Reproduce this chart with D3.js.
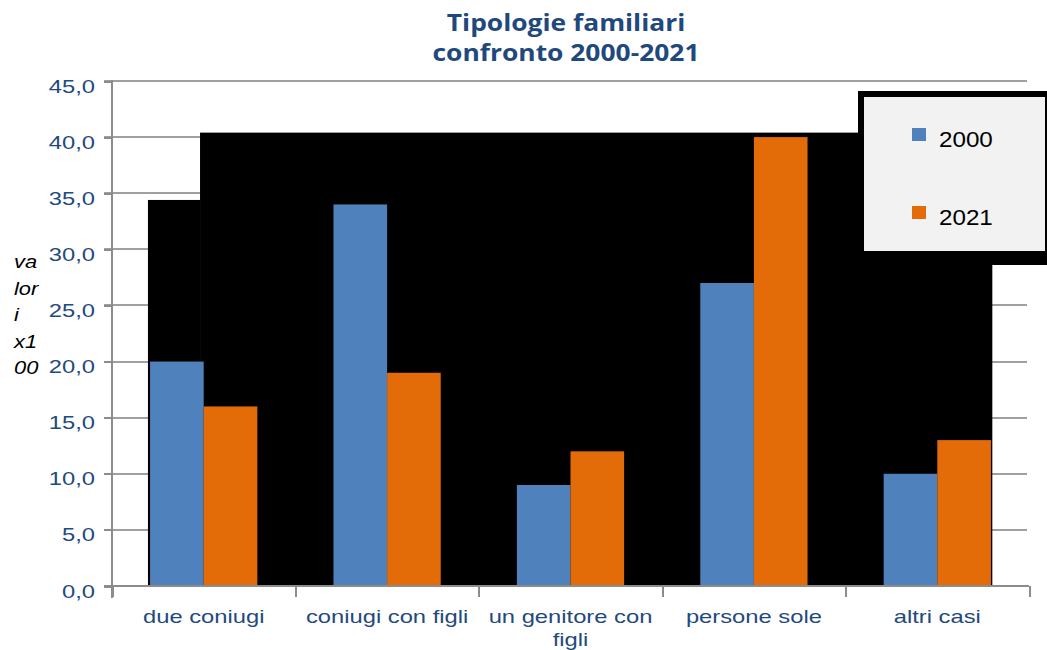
<!DOCTYPE html>
<html lang="it">
<head>
<meta charset="UTF-8">
<title>Tipologie familiari</title>
<script src="https://cdn.jsdelivr.net/npm/d3@7"></script>
<style>
  body { margin: 0; background: #fff; }
  .grid line { stroke: #a0a0a0; stroke-width: 2px; shape-rendering: crispEdges; }
  .axis path, .axis line { stroke: #8c8c8c; stroke-width: 2px; shape-rendering: crispEdges; }
  .axis text, .xlab { fill: #1f4a80; font-family: "Liberation Sans", Arial, sans-serif; font-size: 19px; }
  .title { fill: #1f497d; font-family: "Open Sans", sans-serif; font-weight: 700; font-size: 24px; }
  .ylab { fill: #000; font-family: "Liberation Sans", Arial, sans-serif; font-style: italic; font-size: 19px; }
  .leg { fill: #000; font-family: "Liberation Sans", Arial, sans-serif; font-size: 22px; }
</style>
</head>
<body>
<div id="chart"></div>
<script>
// dati
var categories = ["due coniugi", "coniugi con figli", "un genitore con figli", "persone sole", "altri casi"];
var series = ["2000", "2021"];
var values2000 = [20.0, 34.0, 9.0, 27.0, 10.0];
var values2021 = [16.0, 19.0, 12.0, 40.0, 13.0];
var yTicks = [0, 5, 10, 15, 20, 25, 30, 35, 40, 45];
var yTitle = ["va", "lor", "i", "x1", "00"];
// blocchi neri dietro le barre (in unita di categoria, valore)
var shadowFrom = [0.196, 0.48];
var shadowTo = [0.48, 4.80];
var shadowTop = [34.4, 40.4];

var colors = {"2000": "#4f81bd", "2021": "#e36c09"};
var width = 1047, height = 650;
var pLeft = 112, pRight = 1029, pTop = 81, pBottom = 586;
var sx = 1.25; // testo un po' allargato come nell'originale

var svg = d3.select("#chart").append("svg")
  .attr("width", width).attr("height", height);

var y = d3.scaleLinear().domain([0, 45]).range([pBottom, pTop]);
var x = d3.scaleBand().domain(categories).range([pLeft, pRight]);
var xLin = d3.scaleLinear().domain([0, categories.length]).range([pLeft, pRight]);
var xInner = d3.scaleBand().domain(series).range([0, x.bandwidth()]).paddingOuter(0.71);

// griglia
svg.append("g").attr("class", "grid")
  .selectAll("line").data(yTicks.filter(function(d){ return d > 0; })).enter()
  .append("line")
  .attr("x1", pLeft - 8).attr("x2", pRight - 2)
  .attr("y1", function(d){ return Math.round(y(d)); })
  .attr("y2", function(d){ return Math.round(y(d)); });

// blocchi neri
svg.selectAll("rect.shadow").data(shadowTop).enter()
  .append("rect").attr("class", "shadow")
  .attr("x", function(d, i){ return xLin(shadowFrom[i]); })
  .attr("width", function(d, i){ return xLin(shadowTo[i]) - xLin(shadowFrom[i]); })
  .attr("y", function(d){ return y(d); })
  .attr("height", function(d){ return pBottom - y(d); })
  .attr("fill", "#000");

// barre
var rows = categories.map(function(c, i){
  return {cat: c, vals: [{s: "2000", v: values2000[i]}, {s: "2021", v: values2021[i]}]};
});
var grp = svg.selectAll("g.cat").data(rows).enter().append("g")
  .attr("class", "cat")
  .attr("transform", function(d){ return "translate(" + x(d.cat) + ",0)"; });
grp.selectAll("rect").data(function(d){ return d.vals; }).enter()
  .append("rect")
  .attr("x", function(d){ return xInner(d.s); })
  .attr("width", xInner.bandwidth())
  .attr("y", function(d){ return y(d.v); })
  .attr("height", function(d){ return pBottom - y(d.v); })
  .attr("fill", function(d){ return colors[d.s]; });

// asse y
var yAxis = d3.axisLeft(y).tickValues(yTicks).tickSize(8).tickPadding(0)
  .tickFormat(function(d){ return d.toFixed(1).replace(".", ","); });
var gy = svg.append("g").attr("class", "axis")
  .attr("transform", "translate(" + pLeft + ",0)").call(yAxis);
gy.select(".domain").attr("d", "M0," + (pTop - 1) + "V" + (pBottom + 12));
gy.selectAll("text").attr("x", -17 / sx).attr("y", 5)
  .attr("transform", "scale(" + sx + ",1)");

// asse x
var xAxis = d3.axisBottom(xLin).tickValues(d3.range(categories.length + 1)).tickSize(11).tickFormat("");
var gx = svg.append("g").attr("class", "axis")
  .attr("transform", "translate(0," + pBottom + ")").call(xAxis);
gx.select(".domain").attr("d", "M" + (pLeft - 8) + ",0H" + pRight);

// etichette categorie
var lab = svg.selectAll("text.xlab").data(categories).enter()
  .append("text").attr("class", "xlab")
  .attr("text-anchor", "middle")
  .attr("transform", function(d){
    return "translate(" + (x(d) + x.bandwidth() / 2) + "," + (pBottom + 37) + ") scale(" + sx + ",1)";
  });
lab.each(function(d){
  var t = d3.select(this);
  var lines = d === "un genitore con figli" ? ["un genitore con", "figli"] : [d];
  lines.forEach(function(l, i){
    t.append("tspan").attr("x", 0).attr("dy", i ? 23 : 0).text(l);
  });
});

// titolo asse y
svg.selectAll("text.ylab").data(yTitle).enter()
  .append("text").attr("class", "ylab")
  .attr("transform", function(d, i){ return "translate(14," + (268 + i * 26.5) + ") scale(1.15,1)"; })
  .text(function(d){ return d; });

// titolo
svg.selectAll("text.title").data(["Tipologie familiari", "confronto 2000-2021"]).enter()
  .append("text").attr("class", "title")
  .attr("text-anchor", "middle")
  .attr("transform", function(d, i){ return "translate(566," + (31 + i * 30) + ") scale(1.1,1)"; })
  .text(function(d){ return d; });

// legenda
var lg = svg.append("g");
lg.append("rect").attr("x", 858).attr("y", 91).attr("width", 195).attr("height", 174).attr("fill", "#000");
lg.append("rect").attr("x", 864).attr("y", 97).attr("width", 181).attr("height", 154).attr("fill", "#f2f2f2");
var li = lg.selectAll("g.li").data(series).enter().append("g")
  .attr("transform", function(d, i){ return "translate(912," + (128 + i * 78) + ")"; });
li.append("rect").attr("width", 14).attr("height", 13)
  .attr("fill", function(d){ return colors[d]; });
li.append("text").attr("class", "leg")
  .attr("transform", "translate(27,19) scale(1.1,1)")
  .text(function(d){ return d; });
</script>
</body>
</html>
